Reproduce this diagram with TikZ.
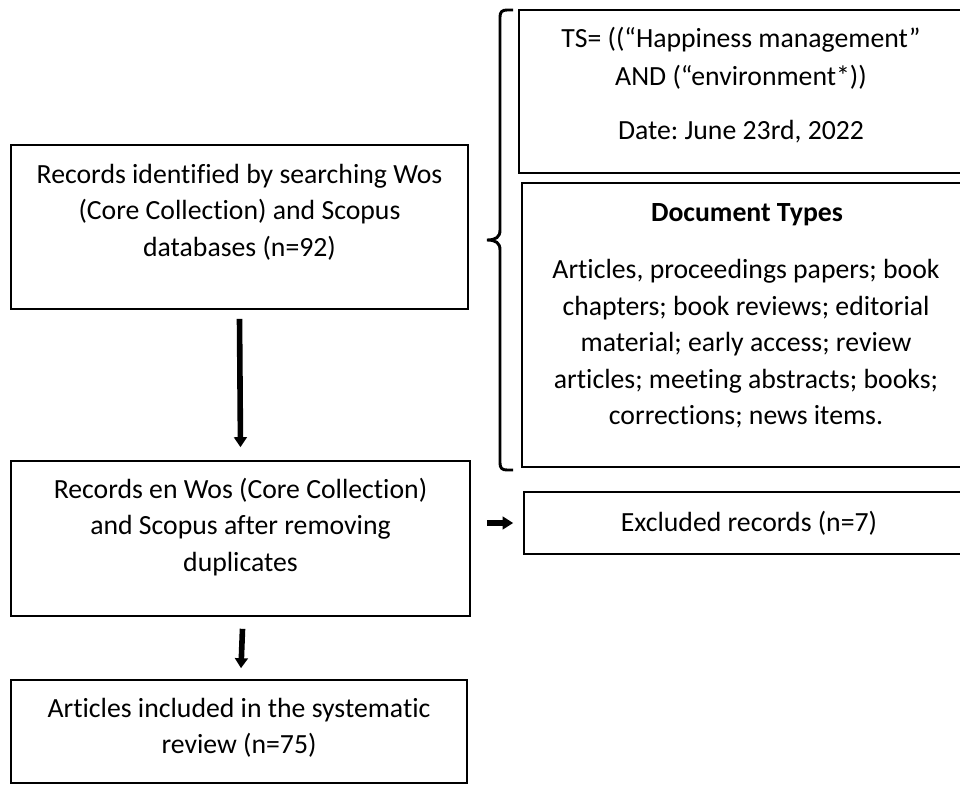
\documentclass[tikz,border=0pt]{standalone}
\usepackage{fontspec}
\setmainfont{Carlito}[Ligatures=CommonOff]
\frenchspacing
\usetikzlibrary{arrows.meta,fit,calc}
\tikzset{
  box/.style={draw, line width=1.2pt, inner sep=0pt, rectangle},
  txt/.style={align=center, inner sep=0pt, font=\fontsize{20.8}{27.4}\selectfont},
  downarrow/.style={line width=4.2pt, -{Triangle[length=7.5pt,width=9.5pt]}},
  sidearrow/.style={line width=5pt, -{Triangle[length=8pt,width=9.5pt]}},
  bracestyle/.style={line width=2.2pt}
}
\begin{document}
\begin{tikzpicture}[x=0.75pt,y=-0.75pt]
\useasboundingbox (0,0) rectangle (960,785);
\clip (0,0) rectangle (960,785);
% boxes
\node[box, fit={(11,145)(468,309)}] (b1) {};
\node[box, fit={(11,461)(470,616)}] (b2) {};
\node[box, fit={(11,680)(467,783)}] (b3) {};
\node[box, fit={(519,10)(966,173)}] (ts) {};
\node[box, fit={(522,183)(970,467)}] (dt) {};
\node[box, fit={(524,492)(974,554)}] (ex) {};
% texts
\node[txt] (b1t) at (239.5,212) {Records identified by searching Wos\\(Core Collection) and Scopus\\databases (n=92)};
\node[txt] (b2t) at (240.5,527) {Records en Wos (Core Collection)\\and Scopus after removing\\duplicates};
\node[txt] (b3t) at (239,728) {Articles included in the systematic\\review (n=75)};
\node[txt, font=\fontsize{20.8}{28.5}\selectfont] (tst) at (741,58) {TS= ((“Happiness management”\\AND (“environment*))};
\node[txt] (tsd) at (741,131.5) {Date: June 23rd, 2022};
\node[txt, font=\fontsize{20.8}{27.4}\selectfont\bfseries] (dth) at (747,214.5) {Document Types};
\node[txt] (dtb) at (746,344) {Articles, proceedings papers; book\\chapters; book reviews; editorial\\material; early access; review\\articles; meeting abstracts; books;\\corrections; news items.};
\node[txt] (ext) at (749,523) {Excluded records (n=7)};
% brace
\draw[bracestyle] (513,10) -- (507,10) .. controls (502,10) and (500,12) .. (500,17) -- (500,230)
  .. controls (500,237) and (496,240) .. (487,240)
  .. controls (496,240) and (500,243) .. (500,250) -- (500,463)
  .. controls (500,468) and (502,470) .. (507,470) -- (513,470);
% arrows
\draw[downarrow] ([yshift=-6.75pt]b1.south) -- ([yshift=9.75pt]b2.north);
\draw[downarrow] ([xshift=1.5pt,yshift=-9pt]b2.south) -- ([xshift=1.5pt,yshift=8.25pt]b3.north);
\coordinate (sa) at ($(b2.east |- ex.west)+(12pt,0)$);
\coordinate (se) at ($(ex.west)+(-7.5pt,0)$);
\draw[sidearrow] (sa) -- (se);
\end{tikzpicture}
\end{document}
